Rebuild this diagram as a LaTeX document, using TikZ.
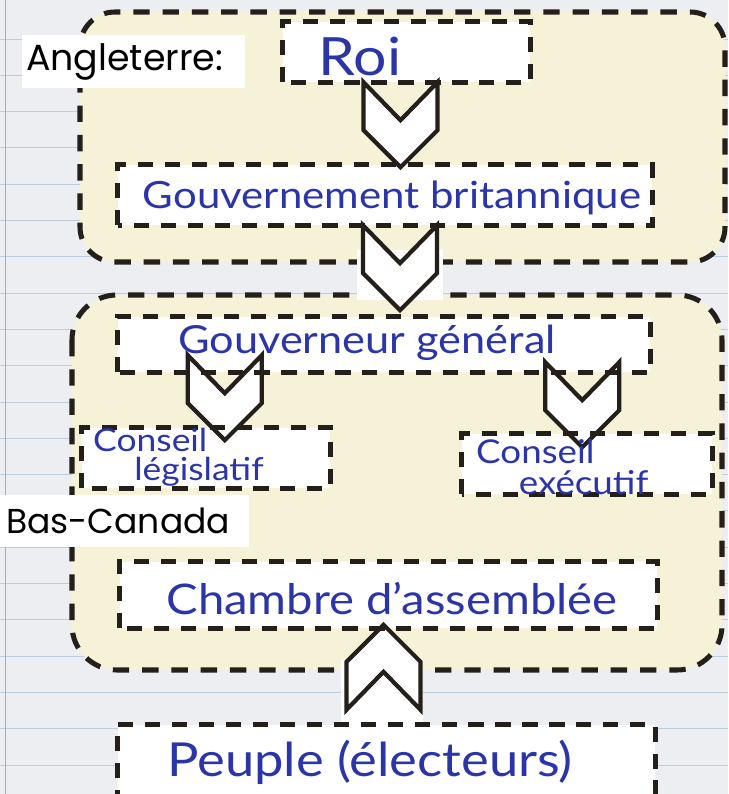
\documentclass[tikz,border=0pt]{standalone}
\usepackage{fontspec}
\setmainfont{Lato}[FakeStretch=1.12]
\newfontfamily\tagfont{Poppins}
\usetikzlibrary{calc}

\definecolor{paper}{HTML}{ECEEF1}
\definecolor{rule}{HTML}{BCCEDD}
\definecolor{card}{HTML}{F5F2D7}
\definecolor{ink}{HTML}{2B35A8}
\definecolor{dash}{HTML}{241F1A}

\newcommand\px{0.03cm}

\tikzset{
  panel/.style={draw=dash,line width=4.3pt,dash pattern=on 14pt off 11pt,fill=card},
  boxfill/.style={fill=white,inner sep=0pt},
  boxline/.style={draw=dash,line width=4.3pt,dash pattern=on 13pt off 10pt},
  tag/.style={fill=white,inner sep=0pt,inner xsep=4*\px,anchor=west,align=left,
    font=\tagfont\fontsize{31}{32}\selectfont},
  hand/.style={text=ink,inner sep=0pt,font=\fontsize{33}{34}\selectfont},
  small hand/.style={hand,align=left,anchor=west,font=\fontsize{27}{25}\selectfont},
  chev/.pic={\draw[fill=white,draw=dash,line width=3.6pt,line join=miter]
    (-37,0) -- (0,38) -- (37,0) -- (37,48) -- (0,85) -- (-37,48) -- cycle;}
}

\begin{document}
\begin{tikzpicture}[x=0.03cm,y=-0.03cm,line cap=butt]
\useasboundingbox (0,0) rectangle (728,794);
\clip (0,0) rectangle (728,794);

% lined paper
\fill[paper] (0,0) rectangle (728,794);
\foreach \k in {0,...,20}
  \draw[rule,line width=0.8pt] (0,{39+36.3*\k}) -- (728,{39+36.3*\k});
\draw[red!25!rule,line width=0.8pt] (5,0) -- (5,794);

% the two cards
\draw[panel,rounded corners=1.05cm] (80,12) rectangle (725,262);
\draw[panel,rounded corners=1.35cm] (72,295) rectangle (722,670);

% paper under the arrows
\fill[white] (357,250) rectangle (443,300);
\fill[white] (341,660) rectangle (423,726);

% titles
\node[tag,minimum height=53*\px,text width=215*\px] (angl) at (22,61.5) {Angleterre:};
\node[tag,minimum height=52*\px,text width=237*\px,inner xsep=6*\px,
  font=\tagfont\fontsize{29.5}{30}\selectfont] (basc) at (0,521) {Bas-Canada};

% boxes
\node[boxfill,minimum width=247*\px,minimum height=60*\px] (roi) at (406.5,52) {};
\node[boxfill,minimum width=534*\px,minimum height=60*\px] (gb) at (385,195) {};
\node[boxfill,minimum width=532*\px,minimum height=55*\px] (gg) at (384,344.5) {};
\node[boxfill,minimum width=248*\px,minimum height=60*\px] (cl) at (206,458) {};
\node[boxfill,minimum width=250*\px,minimum height=60*\px] (ce) at (587,464) {};
\node[boxfill,minimum width=537*\px,minimum height=66*\px] (ca) at (388.5,595) {};
\node[boxfill,minimum width=537*\px,minimum height=80*\px] (pe) at (386.5,765) {};

% arrows
\pic at ($(roi.south)+(-6,0)$) {chev};
\pic at ($(gb.south)+(15,0)$) {chev};
\pic at ($(gg.south west)+(107,-17)$) {chev};
\pic at ($(gg.south east)+(-68,-10)$) {chev};
\pic[yscale=-1] at ($(pe.north)+(-3,-15)$) {chev};

\foreach \b in {roi,gb,gg,cl,ce,ca,pe}
  \draw[boxline] (\b.south west) rectangle (\b.north east);

% texts
\node[hand,font=\fontsize{45}{46}\selectfont] (roit) at (360,56) {Roi};
\node[hand,font=\fontsize{32}{34}\selectfont] (gbt) at (392,198) {Gouvernement britannique};
\node[hand] (ggt) at (367,343) {Gouverneur général};
\node[small hand] (clt) at (93,457) {Conseil\\\hspace*{1.3em}législatif};
\node[small hand,font=\fontsize{28}{26}\selectfont] (cet) at (476,467) {Conseil\\\hspace*{1.3em}exécutif};
\node[hand,font=\fontsize{36}{38}\selectfont] (cat) at (392,599) {Chambre d'assemblée};
\node[hand,font=\fontsize{40}{42}\selectfont] (pet) at (370,762) {Peuple (électeurs)};
\end{tikzpicture}
\end{document}
